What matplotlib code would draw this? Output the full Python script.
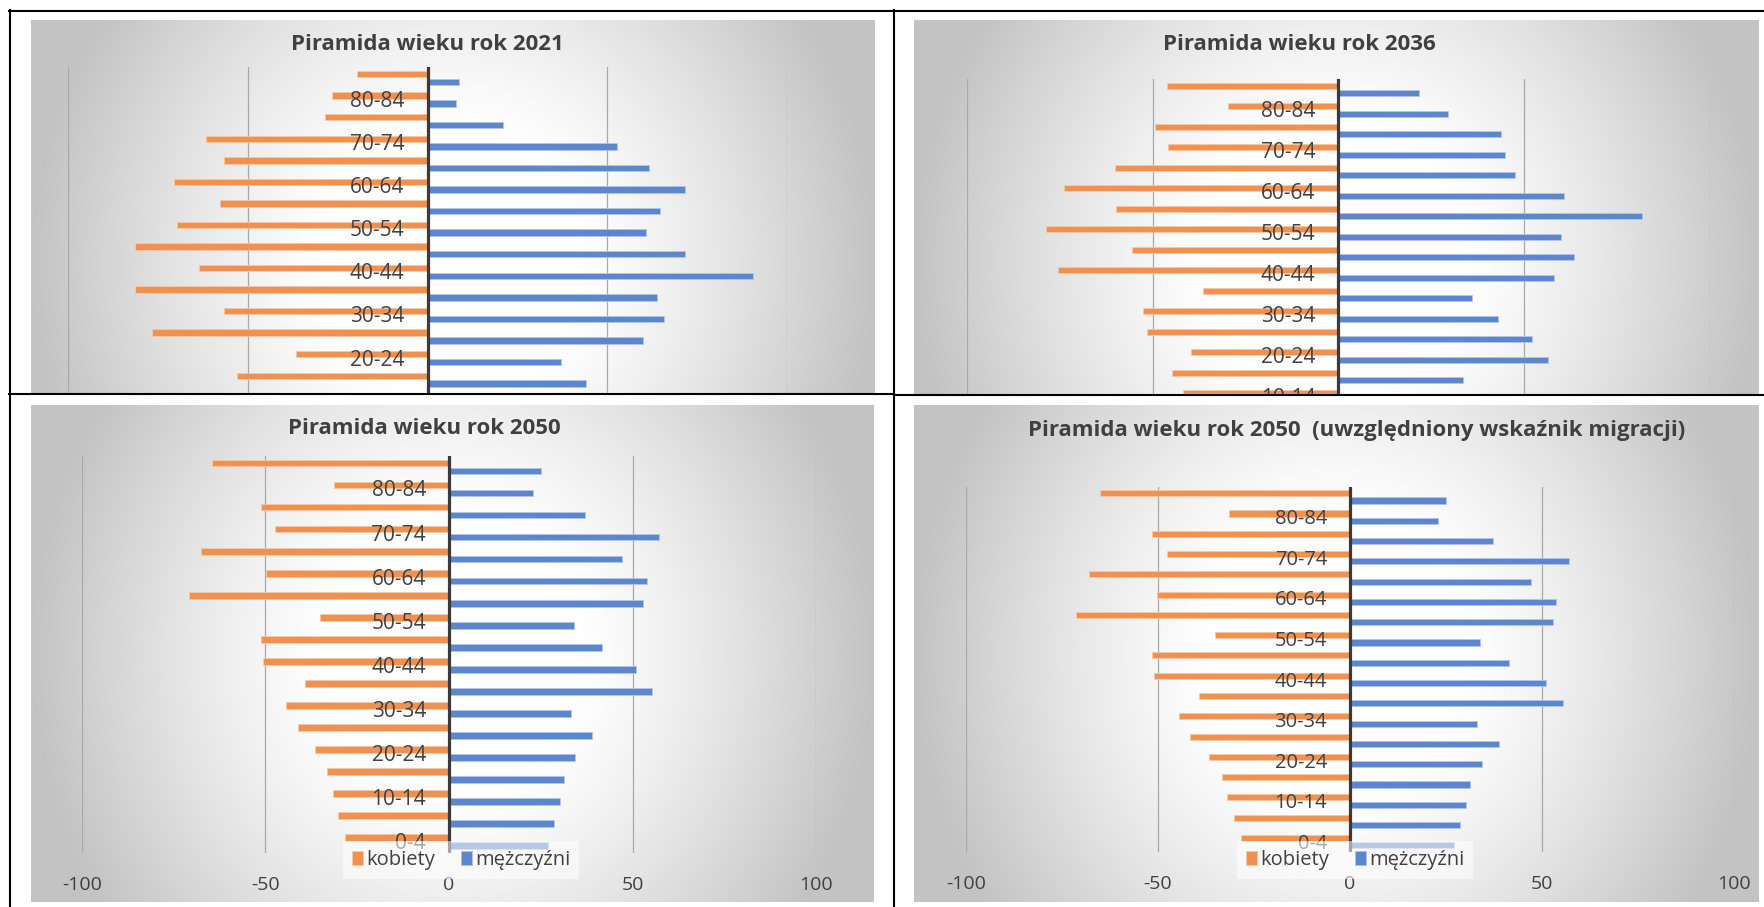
import numpy as np
import matplotlib
matplotlib.use("Agg")
import matplotlib.pyplot as plt
from matplotlib.transforms import ScaledTranslation

plt.rcParams['font.family'] = ['Open Sans', 'DejaVu Sans']

W, H = 1764, 907
nan = np.nan

# grupy wieku od dolu do gory
grupy = ["0-4", "5-9", "10-14", "15-19", "20-24", "25-29", "30-34", "35-39", "40-44",
         "45-49", "50-54", "55-59", "60-64", "65-69", "70-74", "75-79", "80-84", "85+"]

# gorne wykresy sa uciete w tabeli, najmlodszych grup nie widac
kobiety_2021 = [nan, nan, nan, 52.9, 36.5, 76.5, 56.6, 81.5, 63.5, 81.5, 69.6, 57.6, 70.6, 56.6, 61.6, 28.6, 26.6, 19.6]
mezczyzni_2021 = [nan, nan, nan, 44.0, 37.0, 59.9, 65.7, 63.8, 90.6, 71.7, 60.8, 64.8, 71.7, 61.7, 52.8, 20.9, 7.9, 8.9]
kobiety_2036 = [nan, nan, 41.7, 44.7, 39.7, 51.6, 52.5, 36.4, 75.6, 55.5, 78.7, 59.9, 73.9, 60.1, 45.9, 49.3, 29.6, 46.1]
mezczyzni_2036 = [nan, nan, nan, 33.5, 56.5, 52.2, 43.1, 35.9, 58.1, 63.5, 60.1, 81.9, 60.8, 47.5, 44.9, 43.8, 29.6, 21.8]
kobiety_2050 = [28.4, 30.1, 31.6, 33.2, 36.4, 41.2, 44.3, 39.1, 50.6, 51.1, 35.0, 70.7, 49.9, 67.6, 47.3, 51.2, 31.2, 64.6]
mezczyzni_2050 = [27.0, 28.5, 30.2, 31.3, 34.4, 38.9, 33.1, 55.3, 50.9, 41.6, 34.0, 52.7, 53.8, 47.1, 57.1, 37.1, 22.9, 25.1]
# z migracja wyglada tak samo
kobiety_2050m = [28.4, 30.1, 31.9, 33.4, 36.8, 41.7, 44.6, 39.4, 51.0, 51.5, 35.2, 71.2, 50.3, 68.0, 47.7, 51.6, 31.4, 65.0]
mezczyzni_2050m = [27.0, 28.5, 30.2, 31.3, 34.4, 38.9, 33.1, 55.3, 50.9, 41.5, 33.9, 52.7, 53.7, 47.0, 57.1, 37.1, 22.8, 25.0]

legenda = ["kobiety", "mężczyźni"]
ticks = [-100, -50, 0, 50, 100]

POM = '#F0914F'
NIEB = '#5C86CD'
TXT = '#404040'

# (tytul, kobiety, mezczyzni, tlo wykresu, dol widoczny, obszar osi, dol ylim, srodek tytulu, font etykiet, osie x, x legendy)
panele = [
    ("Piramida wieku rok 2021", kobiety_2021, mezczyzni_2021, (31, 20, 875, 505), 393,
     (68, 67.2, 787, 393), 2.382, (427, 41.7), 15, False, 0),
    ("Piramida wieku rok 2036", kobiety_2036, mezczyzni_2036, (914, 20, 1759, 498), 394,
     (967, 79.25, 1709.5, 394), 2.146, (1299, 41.7), 15, False, 0),
    ("Piramida wieku rok 2050", kobiety_2050, mezczyzni_2050, (31, 405, 874, 902), 902,
     (81.7, 456, 816.3, 852.7), -0.5, (424, 426), 15, True, 461),
    ("Piramida wieku rok 2050  (uwzględniony wskaźnik migracji)", kobiety_2050m, mezczyzni_2050m,
     (914, 405, 1759, 902), 902, (965.7, 486.7, 1734.3, 851.8), -0.5, (1357, 427.4), 14.5, True, 1355),
]

fig = plt.figure(figsize=(W / 100, H / 100), dpi=100)

# tlo: biala kartka + szare gradienty wykresow
img = np.ones((H, W, 3))
yy, xx = np.mgrid[0:H, 0:W]
for p in panele:
    x0, y0, x1, y1 = p[3]
    yb = p[4]
    cx, cy = (x0 + x1) / 2, (y0 + y1) / 2
    dx = (xx - cx) / ((x1 - x0) / 2)
    dy = (yy - cy) / ((y1 - y0) / 2)
    r = np.sqrt(dx ** 2 + 0.3 * dy ** 2)
    t = np.clip((r - 0.3) / 0.7, 0, 1) ** 1.2
    col = (255 - 60 * t) / 255
    m = (xx >= x0) & (xx < x1) & (yy >= y0) & (yy < min(y1, yb))
    for k in range(3):
        img[..., k][m] = col[m]

bg = fig.add_axes([0, 0, 1, 1])
bg.imshow(img, extent=(0, W, H, 0), interpolation='bilinear')
bg.set_xlim(0, W)
bg.set_ylim(H, 0)
bg.axis('off')

# linie tabeli
lw = 1.5
bg.plot([9, W], [10.5, 10.5], color='black', lw=lw)
bg.plot([9.5, 9.5], [10, H], color='black', lw=lw)
bg.plot([893.5, 893.5], [10, H], color='black', lw=lw)
bg.plot([9, 893.5], [393.5, 393.5], color='black', lw=lw)
bg.plot([893.5, W], [394.5, 394.5], color='black', lw=lw)

y = np.arange(len(grupy))
for tytul, kob, mez, box, yb, ab, ylo, tpos, fs, osx, lx in panele:
    x0, y0, x1, y1 = ab
    ax = fig.add_axes([x0 / W, 1 - y1 / H, (x1 - x0) / W, (y1 - y0) / H])
    ax.set_facecolor('none')
    b1 = ax.barh(y + 0.18, -np.array(kob), height=0.3, color=POM, edgecolor='#F7C7A6', linewidth=0.6, zorder=2)
    b2 = ax.barh(y - 0.18, mez, height=0.3, color=NIEB, edgecolor='#B3C6EA', linewidth=0.6, zorder=2)
    ax.axvline(0, color='#3a3a3a', lw=2.3, zorder=3)
    ax.set_xlim(-100, 100)
    ax.set_ylim(ylo, 17.5)
    ax.set_xticks(ticks)
    ax.set_yticks([])
    ax.grid(axis='x', color='#a8a8a8', lw=0.9, zorder=0)
    ax.tick_params(axis='x', length=0, pad=17, labelsize=14, labelcolor=TXT)
    if osx:
        ax.set_xticklabels([str(t) for t in ticks])
    else:
        ax.set_xticklabels([])
    for s in ax.spines.values():
        s.set_visible(False)

    # etykiety co druga grupa, przy osi zero
    fpx = fs * 100 / 72
    off = ScaledTranslation(-23 / 100, -0.357 * fpx / 100, fig.dpi_scale_trans)
    for i in range(0, len(grupy), 2):
        ax.text(0, y[i], grupy[i], ha='right', va='baseline', fontsize=fs, color=TXT,
                transform=ax.transData + off, clip_on=True, zorder=4)

    tfs = 16
    fig.text(tpos[0] / W, 1 - (tpos[1] + 0.37 * tfs * 100 / 72) / H, tytul, ha='center', va='baseline',
             fontsize=tfs, fontweight='bold', color=TXT)

    if osx:
        leg = ax.legend([b1, b2], legenda, loc='center', bbox_to_anchor=(lx / W, 1 - 860 / H),
                        bbox_transform=fig.transFigure, ncol=2, fontsize=14.5, frameon=True,
                        handlelength=0.55, handleheight=0.7, handletextpad=0.15, columnspacing=1.3,
                        borderpad=0.45, fancybox=False, framealpha=0.55)
        leg.get_frame().set_facecolor('white')
        leg.get_frame().set_edgecolor('none')
        for t in leg.get_texts():
            t.set_color(TXT)
        leg.set_zorder(6)

fig.savefig("out.png", dpi=100)
